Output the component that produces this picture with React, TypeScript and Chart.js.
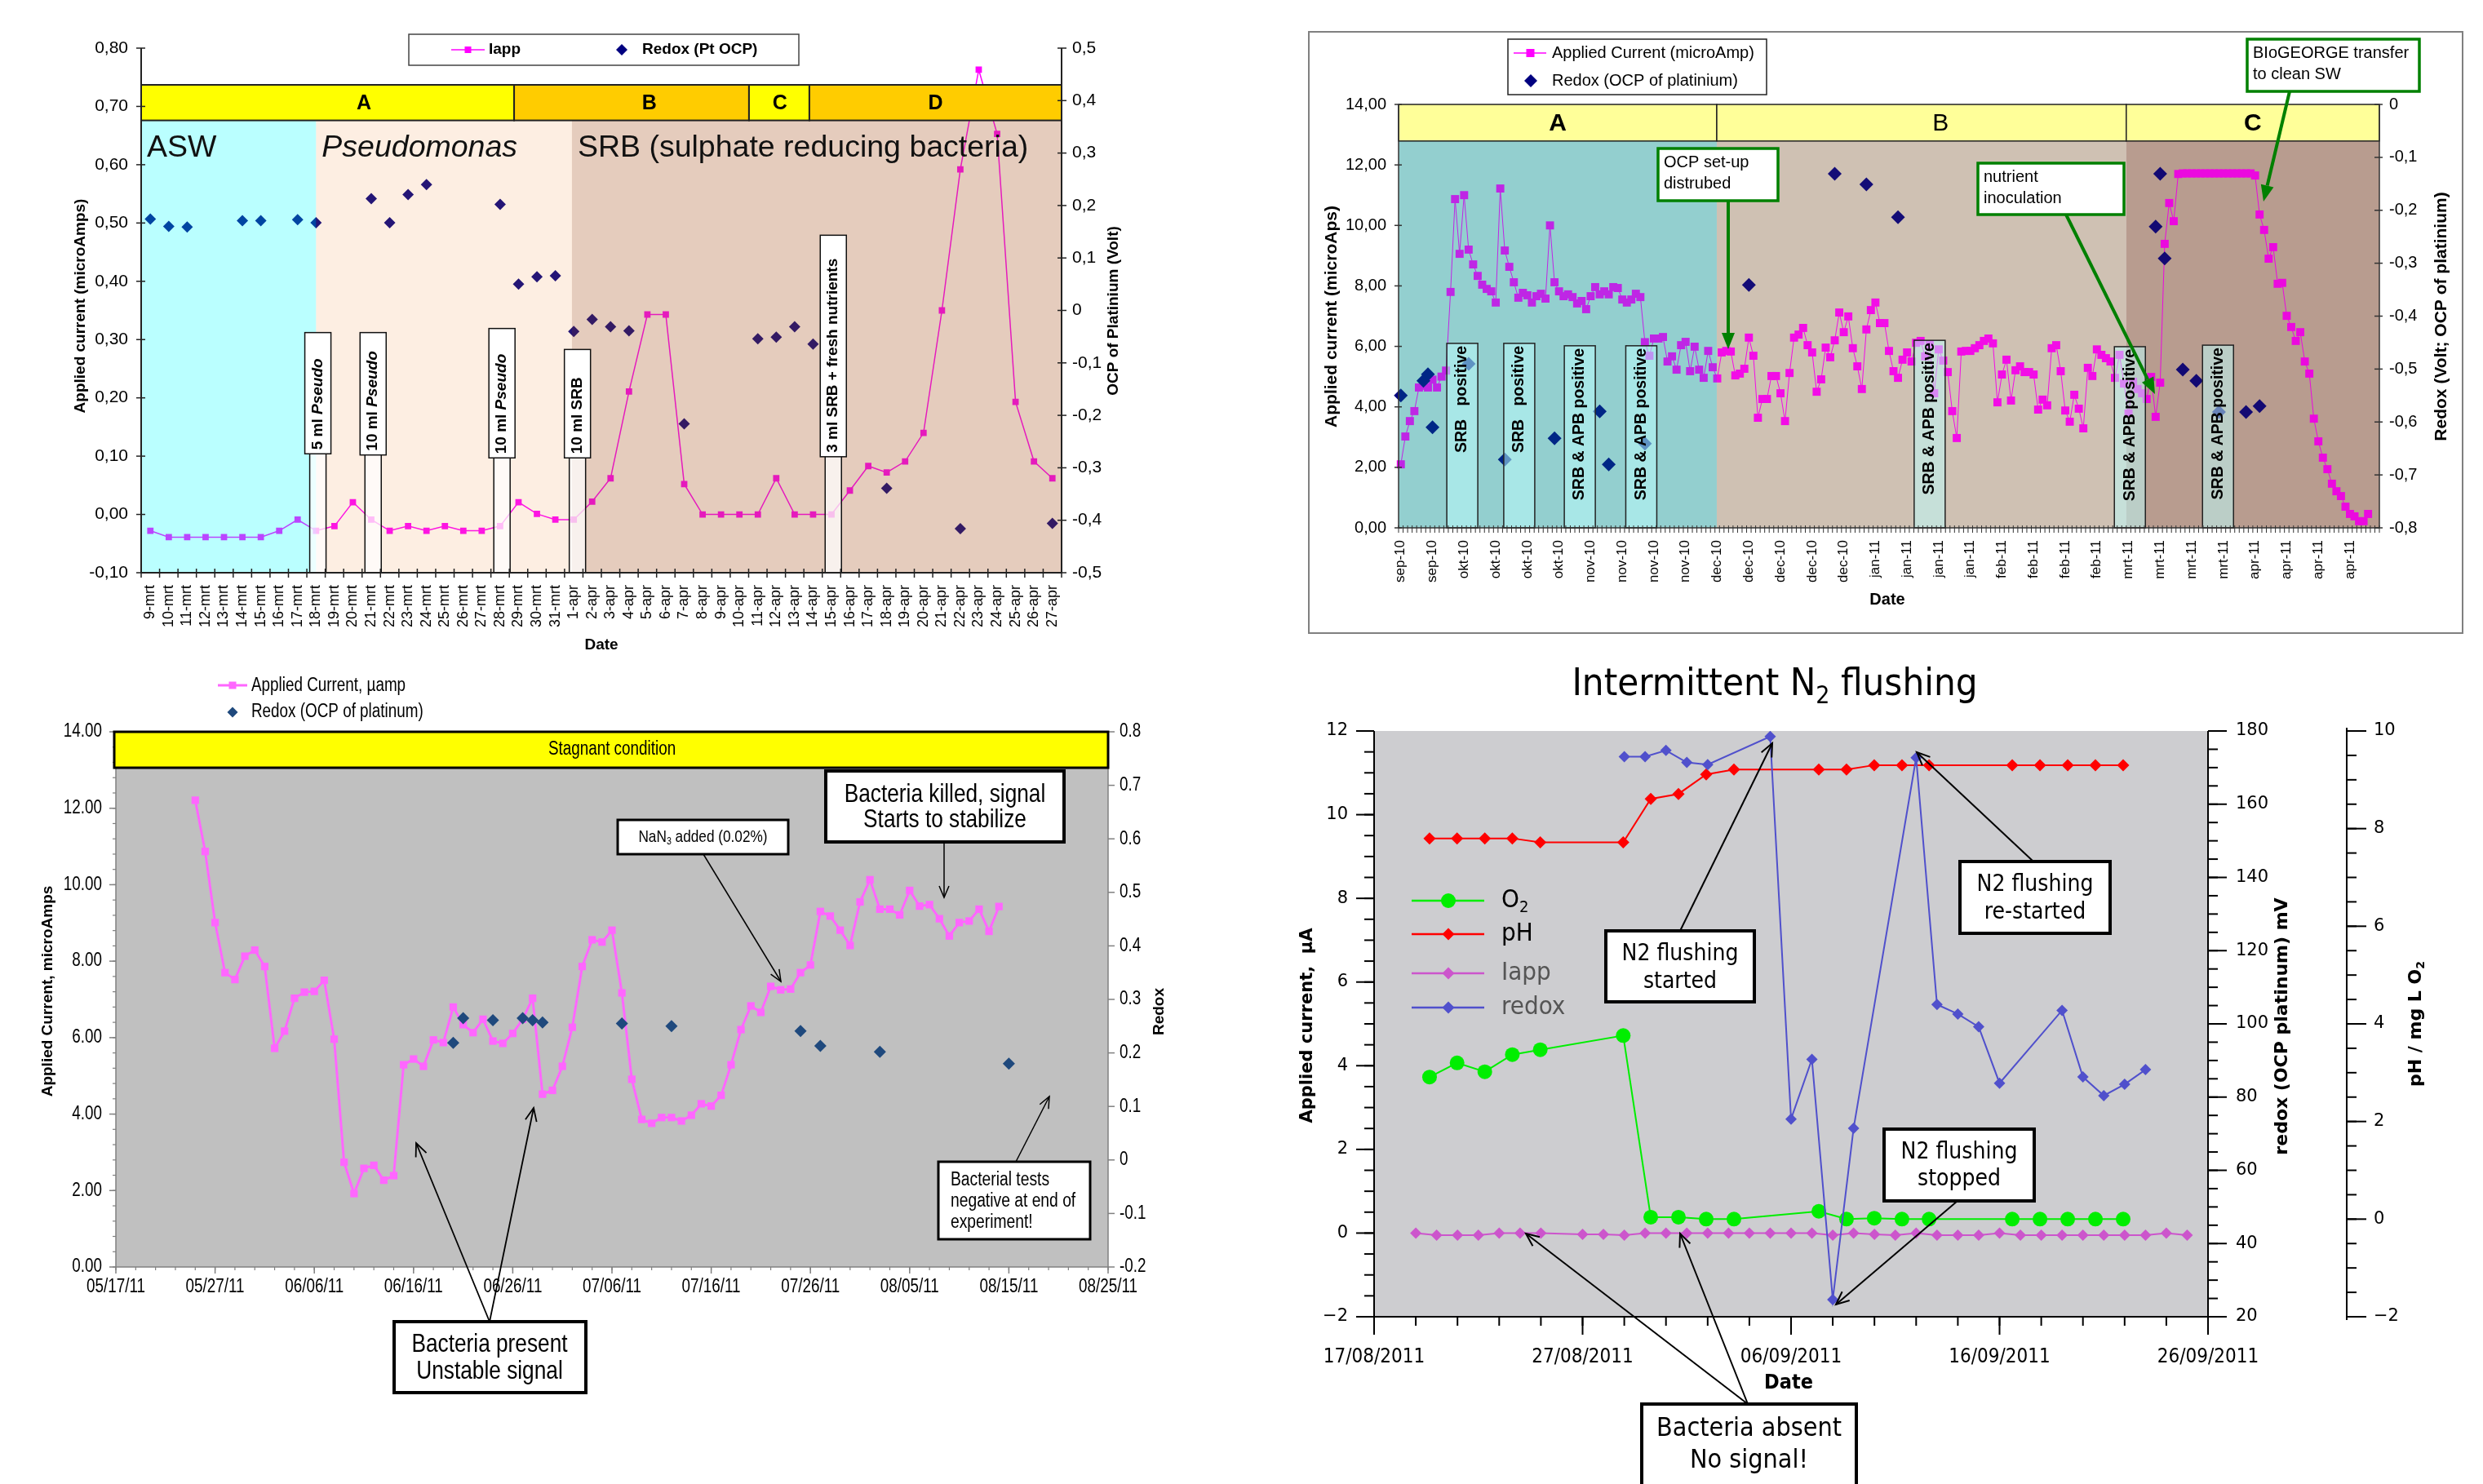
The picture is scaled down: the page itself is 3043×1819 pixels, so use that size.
import React, { useEffect, useRef } from 'react';
import { Chart, registerables } from 'chart.js';

Chart.register(...registerables);

const ARIAL = "'Liberation Sans', Arial, sans-serif";
const VERDANA = "'DejaVu Sans', Verdana, sans-serif";
const TAHOMA = "'DejaVu Sans Condensed', 'DejaVu Sans', Tahoma, sans-serif";

// ================= Panel 1 (top-left) data =================
const C1_DATES = ['9-mrt','10-mrt','11-mrt','12-mrt','13-mrt','14-mrt','15-mrt','16-mrt','17-mrt','18-mrt','19-mrt','20-mrt','21-mrt','22-mrt','23-mrt','24-mrt','25-mrt','26-mrt','27-mrt','28-mrt','29-mrt','30-mrt','31-mrt','1-apr','2-apr','3-apr','4-apr','5-apr','6-apr','7-apr','8-apr','9-apr','10-apr','11-apr','12-apr','13-apr','14-apr','15-apr','16-apr','17-apr','18-apr','19-apr','20-apr','21-apr','22-apr','23-apr','24-apr','25-apr','26-apr','27-apr'];
const C1_IAPP = [-0.028,-0.039,-0.039,-0.039,-0.039,-0.039,-0.039,-0.028,-0.009,-0.028,
  -0.020,0.021,-0.009,-0.028,-0.020,-0.028,-0.020,-0.028,-0.028,-0.020,
  0.021,0.001,-0.009,-0.009,0.022,0.062,0.211,0.343,0.343,0.052,
  0,0,0,0,0.062,0,0,0,0.041,0.083,
  0.072,0.091,0.140,0.350,0.592,0.763,0.653,0.193,0.091,0.062];
const C1_REDOX = [0.174,0.160,0.159,null,null,0.171,0.171,null,0.173,0.167,
  null,null,0.213,0.167,0.221,0.240,null,null,null,0.202,
  0.050,0.064,0.066,-0.040,-0.017,-0.031,-0.039,null,null,-0.216,
  null,null,null,-0.054,-0.051,-0.031,-0.064,null,null,null,
  -0.339,null,null,null,-0.416,null,null,null,null,-0.406];
const C1_BAND = [0.676, 0.737];
const C1_PHASES = [
  { name: 'A', from: -0.5, to: 19.76, at: 11.6, fill: '#FFFF00' },
  { name: 'B', from: 19.76, to: 32.52, at: 27.1, fill: '#FFCC00' },
  { name: 'C', from: 32.52, to: 35.8, at: 34.2, fill: '#FFFF00' },
  { name: 'D', from: 35.8, to: 49.5, at: 42.65, fill: '#FFCC00' },
];
const C1_MEDIA = [
  { name: 'ASW', from: -0.5, to: 9, italic: false, tint: 'rgba(0,255,255,0.27)' },
  { name: 'Pseudomonas', from: 9, to: 22.9, italic: true, tint: 'rgba(240,140,60,0.15)' },
  { name: 'SRB (sulphate reducing bacteria)', from: 22.9, to: 49.5, italic: false, tint: 'rgba(168,85,38,0.3)' },
];
const C1_NOTES = [
  { at: 9.1, top: 0.312, base: 0.104, parts: ['5 ml ', 'Pseudo'] },
  { at: 12.1, top: 0.312, base: 0.102, parts: ['10 ml ', 'Pseudo'] },
  { at: 19.1, top: 0.319, base: 0.097, parts: ['10 ml ', 'Pseudo'] },
  { at: 23.2, top: 0.283, base: 0.097, parts: ['10 ml SRB', ''] },
  { at: 37.1, top: 0.479, base: 0.099, parts: ['3 ml SRB + fresh nutrients', ''] },
];

// ================= Panel 2 (top-right) data =================
const C2_TICK_LABELS = ['sep-10','sep-10','okt-10','okt-10','okt-10','okt-10','nov-10','nov-10','nov-10','nov-10','dec-10','dec-10','dec-10','dec-10','dec-10','jan-11','jan-11','jan-11','jan-11','feb-11','feb-11','feb-11','feb-11','mrt-11','mrt-11','mrt-11','mrt-11','apr-11','apr-11','apr-11','apr-11'];
const C2_DAY_COUNT = 217;
const C2_LABEL_EVERY = 7;
const C2_IAPP = [2.10,3.02,3.53,3.86,4.64,4.70,4.64,4.90,4.64,5.00,
  5.20,7.80,10.87,9.06,11.00,9.20,8.71,8.33,8.04,7.90,
  7.82,7.45,11.22,9.17,8.63,8.12,7.61,7.77,7.69,7.45,
  7.66,7.74,7.58,10.00,8.12,7.82,7.66,7.72,7.63,7.42,
  7.50,7.23,7.66,7.96,7.72,7.82,7.72,7.96,7.93,7.55,
  7.45,7.55,7.74,7.63,6.14,5.69,6.26,6.26,6.31,5.50,
  5.67,5.23,6.04,6.15,5.18,5.99,5.23,4.96,5.85,5.31,
  4.94,5.80,5.85,5.83,5.04,5.10,5.26,6.29,5.69,3.64,
  4.26,4.26,5.02,5.02,4.45,3.53,5.12,6.29,6.39,6.61,
  6.04,5.80,4.50,4.91,5.96,5.64,6.20,7.12,6.47,6.99,
  5.94,5.34,4.59,6.56,7.20,7.45,6.77,6.77,5.85,5.18,
  4.96,5.56,5.80,5.50,6.12,6.18,5.67,6.07,4.45,5.90,
  5.53,5.15,3.86,2.97,5.83,5.85,5.85,5.94,6.04,6.18,
  6.26,6.10,4.15,5.07,5.56,4.21,5.21,5.34,5.15,5.15,
  5.07,3.91,4.24,4.05,5.94,6.04,5.18,3.88,3.51,4.40,
  3.94,3.29,5.29,5.02,5.90,5.72,5.61,5.50,4.96,5.72,
  4.77,3.78,4.83,4.59,4.45,4.26,4.99,3.67,4.80,9.39,
  10.74,10.14,11.70,11.72,11.72,11.72,11.72,11.72,11.72,11.72,
  11.72,11.72,11.72,11.72,11.72,11.72,11.72,11.72,11.72,11.65,
  10.36,9.85,8.90,9.28,8.07,8.10,7.01,6.64,6.18,6.47,
  5.50,5.10,3.61,2.86,2.32,1.94,1.46,1.21,1.05,0.70,
  0.46,0.38,0.22,0.22,0.46];
const C2_REDOX_AT = [0,5,6,7,15,23,34,44,46,54,77,96,103,110,167,168,169,173,176,181,187,190];
const C2_REDOX = [-0.550,-0.522,-0.510,-0.610,-0.490,-0.671,-0.631,-0.580,-0.680,-0.641,-0.341,-0.131,-0.151,-0.213,-0.231,-0.131,-0.291,-0.501,-0.522,-0.581,-0.581,-0.570];
const C2_BAND = [12.79, 14];
const C2_PHASES = [
  { name: 'A', from: -0.5, to: 69.9, at: 34.7, bold: true, base: 'rgb(196,226,226)', tint: 'rgba(0,150,150,0.25)' },
  { name: 'B', from: 69.9, to: 160.5, at: 119.4, bold: false, base: 'rgb(214,206,196)', tint: 'rgba(160,100,60,0.12)' },
  { name: 'C', from: 160.5, to: 216.5, at: 188.5, bold: true, base: 'rgb(195,173,161)', tint: 'rgba(120,60,40,0.15)' },
];
const C2_NOTES = [
  { at: 13.6, top: 6.10, text: 'SRB   positive' },
  { at: 26.2, top: 6.10, text: 'SRB   positive' },
  { at: 39.6, top: 6.02, text: 'SRB & APB positive' },
  { at: 53.2, top: 6.02, text: 'SRB & APB positive' },
  { at: 117.0, top: 6.20, text: 'SRB & APB positive' },
  { at: 161.3, top: 5.99, text: 'SRB & APB positive' },
  { at: 180.8, top: 6.04, text: 'SRB & APB positive' },
];
const C2_CALLOUTS = [
  { lines: ['OCP set-up', 'distrubed'], box: [2032, 182, 2179, 246], from: [2118, 246], to: [2118, 428] },
  { lines: ['nutrient', 'inoculation'], box: [2424, 200, 2603, 263], from: [2532, 263], to: [2641, 483] },
  { lines: ['BIoGEORGE transfer', 'to clean SW'], box: [2754, 48, 2965, 112], from: [2806, 112], to: [2774, 247] },
];

// ================= Panel 3 (bottom-left) data =================
const C3_XLABELS = ['05/17/11','05/27/11','06/06/11','06/16/11','06/26/11','07/06/11','07/16/11','07/26/11','08/05/11','08/15/11','08/25/11'];
const C3_FIRST_DAY = 8;
const C3_IAPP = [12.21,10.87,9.01,7.70,7.52,8.13,8.29,7.86,5.72,6.17,
  7.03,7.19,7.21,7.50,5.96,2.74,1.92,2.58,2.66,2.27,
  2.39,5.29,5.44,5.25,5.94,5.87,6.80,6.34,6.13,6.48,
  5.91,5.85,6.11,6.48,7.03,4.52,4.62,5.25,6.27,7.86,
  8.56,8.50,8.81,7.17,4.91,3.86,3.76,3.91,3.91,3.82,
  3.97,4.27,4.21,4.49,5.29,6.21,6.83,6.66,7.34,7.25,
  7.27,7.70,7.90,9.30,9.18,8.81,8.41,9.55,10.13,9.36,
  9.36,9.21,9.85,9.44,9.48,9.11,8.66,9.01,9.05,9.36,8.78,9.43];
const C3_REDOX_DAYS = [34,35,38,41,42,43,51,56,69,71,77,90];
const C3_REDOX = [0.219,0.265,0.261,0.265,0.261,0.257,0.255,0.250,0.241,0.213,0.202,0.180];
const C3_BAND_BOTTOM = 13.06;

// ================= Panel 4 (bottom-right) data =================
const C4_XLABELS = ['17/08/2011','27/08/2011','06/09/2011','16/09/2011','26/09/2011'];
const C4_SAMPLE_DAYS = [2.66,3.98,5.31,6.63,7.97,11.95,13.27,14.6,15.93,17.26,21.33,22.66,23.99,25.32,26.62,30.61,31.94,33.27,34.6,35.93];
const C4_PH = [7.80,7.80,7.80,7.80,7.72,7.72,8.61,8.71,9.11,9.21,9.21,9.21,9.30,9.30,9.30,9.30,9.30,9.30,9.30,9.30];
const C4_O2 = [2.91,3.20,3.02,3.37,3.47,3.76,0.04,0.04,0.00,0.00,0.16,0.00,0.02,0.00,0.00,0.00,0.00,0.00,0.00,0.00];
const C4_REDOX_DAYS = [12,13,14,15,16,19,20,21,22,23,26,27,28,29,30,33,34,35,36,37];
const C4_REDOX = [173.0,173.0,174.7,171.4,170.8,178.5,74.0,90.3,24.7,71.5,172.7,105.3,102.7,99.2,83.8,103.7,85.5,80.4,83.5,87.5];
const C4_IAPP_DAYS = [2,3,4,5,6,7,8,10,11,12,13,14,15,16,17,18,19,20,21,22,23,24,25,26,27,28,29,30,31,32,33,34,35,36,37,38,39];
const C4_IAPP = [0,-0.05,-0.05,-0.05,0,0,0,-0.03,-0.03,-0.05,0,0,0,0,0,0,0,0,0,-0.05,0,-0.03,-0.05,0,-0.05,-0.05,-0.05,0,-0.05,-0.05,-0.05,-0.05,-0.05,-0.05,-0.05,0,-0.05];

// ================= drawing helpers =================
function ln(ctx: any, x1: number, y1: number, x2: number, y2: number, color: string, w: number) {
  ctx.beginPath(); ctx.moveTo(x1, y1); ctx.lineTo(x2, y2);
  ctx.strokeStyle = color; ctx.lineWidth = w; ctx.stroke();
}
function boxR(ctx: any, x1: number, y1: number, x2: number, y2: number, fill: string | null, stroke: string | null, w = 1) {
  if (fill) { ctx.fillStyle = fill; ctx.fillRect(x1, y1, x2 - x1, y2 - y1); }
  if (stroke) { ctx.strokeStyle = stroke; ctx.lineWidth = w; ctx.strokeRect(x1, y1, x2 - x1, y2 - y1); }
}
function txt(ctx: any, s: string, x: number, y: number, font: string, color = '#000', align = 'left', base = 'middle') {
  ctx.font = font; ctx.fillStyle = color; ctx.textAlign = align; ctx.textBaseline = base; ctx.fillText(s, x, y);
}
function vtxt(ctx: any, s: string, x: number, y: number, font: string, color = '#000', align = 'center') {
  ctx.save(); ctx.translate(x, y); ctx.rotate(-Math.PI / 2); txt(ctx, s, 0, 0, font, color, align, 'middle'); ctx.restore();
}
function rich(ctx: any, parts: any[], x: number, y: number, align = 'left', base = 'middle') {
  let w = 0;
  for (const p of parts) { ctx.font = p.f; w += ctx.measureText(p.t).width; }
  let cx = align === 'center' ? x - w / 2 : align === 'right' ? x - w : x;
  ctx.textAlign = 'left'; ctx.textBaseline = base;
  for (const p of parts) {
    ctx.font = p.f; ctx.fillStyle = p.c || '#000';
    ctx.fillText(p.t, cx, y + (p.dy || 0));
    cx += ctx.measureText(p.t).width;
  }
}
function vrich(ctx: any, parts: any[], x: number, y: number, align = 'left') {
  ctx.save(); ctx.translate(x, y); ctx.rotate(-Math.PI / 2); rich(ctx, parts, 0, 0, align, 'middle'); ctx.restore();
}
// Arial-Narrow-like text: uses the narrow face if installed, otherwise squeezes Liberation Sans.
let NARROW_INFO: { family: string; sx: number } | null = null;
function narrow() {
  if (NARROW_INFO) return NARROW_INFO;
  const c = document.createElement('canvas').getContext('2d') as any;
  const probe = 'Bacteria present 0123 Wg';
  c.font = "40px 'Liberation Sans Narrow', monospace";
  const a = c.measureText(probe).width;
  c.font = '40px monospace';
  const b = c.measureText(probe).width;
  NARROW_INFO = Math.abs(a - b) > 0.5 ? { family: "'Liberation Sans Narrow', sans-serif", sx: 1 } : { family: ARIAL, sx: 0.82 };
  return NARROW_INFO;
}
function ntxt(ctx: any, s: string, x: number, y: number, size: number, align = 'left', base = 'middle', weight = '') {
  const n = narrow();
  ctx.save(); ctx.translate(x, y); ctx.scale(n.sx, 1);
  txt(ctx, s, 0, 0, `${weight} ${size}px ${n.family}`, '#000', align, base);
  ctx.restore();
}
function nrich(ctx: any, parts: any[], x: number, y: number, align = 'left') {
  const n = narrow();
  ctx.save(); ctx.translate(x, y); ctx.scale(n.sx, 1);
  rich(ctx, parts.map((p) => ({ ...p, f: `${p.size}px ${n.family}` })), 0, 0, align, 'middle');
  ctx.restore();
}
function diamond(ctx: any, x: number, y: number, r: number, color: string) {
  ctx.beginPath(); ctx.moveTo(x, y - r); ctx.lineTo(x + r, y); ctx.lineTo(x, y + r); ctx.lineTo(x - r, y); ctx.closePath();
  ctx.fillStyle = color; ctx.fill();
}
function square(ctx: any, x: number, y: number, s: number, color: string) {
  ctx.fillStyle = color; ctx.fillRect(x - s / 2, y - s / 2, s, s);
}
function circle(ctx: any, x: number, y: number, r: number, color: string) {
  ctx.beginPath(); ctx.arc(x, y, r, 0, Math.PI * 2); ctx.fillStyle = color; ctx.fill();
}
function arrow(ctx: any, x1: number, y1: number, x2: number, y2: number, color: string, w: number, len: number, hw: number, filled: boolean) {
  const ang = Math.atan2(y2 - y1, x2 - x1);
  const bx = x2 - len * Math.cos(ang), by = y2 - len * Math.sin(ang);
  const px = -Math.sin(ang) * hw, py = Math.cos(ang) * hw;
  ln(ctx, x1, y1, filled ? bx : x2, filled ? by : y2, color, w);
  ctx.beginPath(); ctx.moveTo(bx + px, by + py); ctx.lineTo(x2, y2); ctx.lineTo(bx - px, by - py);
  if (filled) { ctx.closePath(); ctx.fillStyle = color; ctx.fill(); }
  else { ctx.strokeStyle = color; ctx.lineWidth = w; ctx.stroke(); }
}
function each(min: number, max: number, step: number, fn: (v: number, i: number) => void) {
  const n = Math.round((max - min) / step);
  for (let i = 0; i <= n; i++) fn(min + i * step, i);
}
function G(chart: any, ox: number, oy: number) {
  const a = chart.chartArea;
  return {
    L: a.left + ox, R: a.right + ox, T: a.top + oy, B: a.bottom + oy,
    px: (id: string, v: number) => chart.scales[id].getPixelForValue(v) + ox,
    py: (id: string, v: number) => chart.scales[id].getPixelForValue(v) + oy,
  };
}
const comma = (v: number, d: number) => (Math.abs(v) < 1e-9 ? (0).toFixed(d) : v.toFixed(d)).replace('.', ',');
const commaShort = (v: number) => (Math.abs(v) < 1e-9 ? '0' : v.toFixed(1).replace('.', ','));
const dotShort = (v: number) => (Math.abs(v) < 1e-9 ? '0' : v.toFixed(1));

const COMMON = {
  animation: false,
  responsive: false,
  maintainAspectRatio: false,
  devicePixelRatio: 1,
  events: [],
  plugins: { legend: { display: false }, tooltip: { enabled: false } },
};
function linAxis(position: string, min: number, max: number, step: number, size: number, padding: number, font: any, callback: any, show = true) {
  const horizontal = position === 'bottom';
  return {
    type: 'linear', position, min, max,
    grid: { display: false, drawTicks: false }, border: { display: false },
    ticks: { display: show, stepSize: step, padding, color: '#000', font, callback, autoSkip: false, maxRotation: 0, minRotation: 0 },
    afterFit: (s: any) => { if (horizontal) s.height = size; else s.width = size; },
  };
}
function catAxis(size: number, padding: number, font: any) {
  return {
    type: 'category', position: 'bottom', offset: true,
    grid: { display: false, drawTicks: false }, border: { display: false },
    ticks: { autoSkip: false, minRotation: 90, maxRotation: 90, padding, color: '#000', font },
    afterFit: (s: any) => { s.height = size; },
  };
}

// ================= Panel 1 =================
const plugin1 = {
  id: 'panel1',
  afterDatasetsDraw(chart: any) {
    const ctx = chart.ctx;
    const g = G(chart, 0, 0);
    const X = (v: number) => g.px('x', v);
    const Y = (v: number) => g.py('y', v);
    const bandTop = Y(C1_BAND[1]);
    const bandBot = Y(C1_BAND[0]);
    ctx.save();
    for (const m of C1_MEDIA) {
      ctx.fillStyle = m.tint;
      ctx.fillRect(X(m.from), bandBot, X(m.to) - X(m.from), g.B - bandBot);
    }
    for (const m of C1_MEDIA) {
      txt(ctx, m.name, X(m.from) + 7, bandBot + 44, `${m.italic ? 'italic ' : ''}37.5px ${ARIAL}`, '#111', 'left', 'alphabetic');
    }
    for (const n of C1_NOTES) {
      const cx = X(n.at), yt = Y(n.top), yb = Y(n.base);
      ctx.fillStyle = 'rgba(255,255,255,0.72)';
      ctx.fillRect(cx - 10, yb, 20, g.B - yb);
      ln(ctx, cx - 10, yb, cx - 10, g.B, '#111', 1.5);
      ln(ctx, cx + 10, yb, cx + 10, g.B, '#111', 1.5);
      boxR(ctx, cx - 16, yt, cx + 16, yb, '#fff', '#111', 1.5);
      vrich(ctx, [{ t: n.parts[0], f: `bold 19px ${ARIAL}` }, { t: n.parts[1], f: `italic bold 19px ${ARIAL}` }], cx, yb - 5, 'left');
    }
    for (const p of C1_PHASES) {
      boxR(ctx, X(p.from), bandTop, X(p.to), bandBot, p.fill, '#222', 2);
      txt(ctx, p.name, X(p.at), (bandTop + bandBot) / 2 + 1, `bold 25px ${ARIAL}`, '#000', 'center', 'middle');
    }
    ln(ctx, g.L, g.T, g.L, g.B, '#222', 2);
    ln(ctx, g.R, g.T, g.R, g.B, '#222', 2);
    ln(ctx, g.L, g.B, g.R, g.B, '#222', 2);
    each(-0.1, 0.8, 0.1, (v) => { const y = Y(v); ln(ctx, g.L - 6, y, g.L + 5, y, '#222', 1.5); });
    each(-0.5, 0.5, 0.1, (v) => { const y = g.py('y2', v); ln(ctx, g.R - 5, y, g.R + 6, y, '#222', 1.5); });
    for (let i = 0; i <= C1_DATES.length; i++) { const x = X(i - 0.5); ln(ctx, x, g.B - 5, x, g.B + 6, '#222', 1.5); }
    vtxt(ctx, 'Applied current (microAmps)', 99, 375, `bold 19px ${ARIAL}`);
    vtxt(ctx, 'OCP of Platinium (Volt)', 1365, 381, `bold 19px ${ARIAL}`);
    txt(ctx, 'Date', 737, 791, `bold 19px ${ARIAL}`, '#000', 'center', 'middle');
    boxR(ctx, 501, 42, 979, 80, '#fff', '#444', 1.5);
    ln(ctx, 553, 61, 594, 61, '#FF00FF', 1.5);
    square(ctx, 573.5, 61, 8, '#FF00FF');
    txt(ctx, 'Iapp', 599, 61, `bold 19px ${ARIAL}`, '#000', 'left', 'middle');
    diamond(ctx, 762, 61, 7, '#000080');
    txt(ctx, 'Redox (Pt OCP)', 787, 61, `bold 19px ${ARIAL}`, '#000', 'left', 'middle');
    ctx.restore();
  },
};
function buildChart1() {
  return {
    type: 'line',
    data: {
      labels: C1_DATES,
      datasets: [
        { label: 'Redox (Pt OCP)', data: C1_REDOX, yAxisID: 'y2', showLine: false, pointStyle: 'rectRot', pointRadius: 7, pointBackgroundColor: '#000080', pointBorderWidth: 0, order: 0 },
        { label: 'Iapp', data: C1_IAPP, yAxisID: 'y', borderColor: '#FF00FF', borderWidth: 1.5, pointStyle: 'rect', pointRadius: 5.5, pointBackgroundColor: '#FF00FF', pointBorderWidth: 0, order: 1 },
      ],
    },
    options: {
      ...COMMON,
      layout: { padding: { top: 59, left: 0, right: 0, bottom: 0 } },
      scales: {
        x: catAxis(113, 15, { family: ARIAL, size: 18 }),
        y: linAxis('left', -0.1, 0.8, 0.1, 173, 16, { family: ARIAL, size: 21 }, (v: number) => comma(v, 2)),
        y2: linAxis('right', -0.5, 0.5, 0.1, 99, 13, { family: ARIAL, size: 21 }, (v: number) => commaShort(v)),
      },
    },
    plugins: [plugin1],
  };
}

// ================= Panel 2 =================
const P2X = 1560, P2Y = 0;
const plugin2 = {
  id: 'panel2',
  beforeDatasetsDraw(chart: any) {
    const ctx = chart.ctx;
    const g = G(chart, P2X, P2Y);
    const X = (v: number) => g.px('x', v);
    const bandBot = g.py('y', C2_BAND[0]);
    ctx.save(); ctx.translate(-P2X, -P2Y);
    for (const p of C2_PHASES) { ctx.fillStyle = p.base; ctx.fillRect(X(p.from), bandBot, X(p.to) - X(p.from), g.B - bandBot); }
    ctx.restore();
  },
  afterDatasetsDraw(chart: any) {
    const ctx = chart.ctx;
    const g = G(chart, P2X, P2Y);
    const X = (v: number) => g.px('x', v);
    const Y = (v: number) => g.py('y', v);
    const bandBot = Y(C2_BAND[0]), bandTop = Y(C2_BAND[1]);
    ctx.save(); ctx.translate(-P2X, -P2Y);
    for (const p of C2_PHASES) { ctx.fillStyle = p.tint; ctx.fillRect(X(p.from), bandBot, X(p.to) - X(p.from), g.B - bandBot); }
    for (const n of C2_NOTES) {
      const cx = X(n.at), yt = Y(n.top);
      boxR(ctx, cx - 19, yt, cx + 19, g.B, 'rgba(190,255,255,0.5)', '#222', 1.5);
      vtxt(ctx, n.text, cx, yt + 3, `bold 19.5px ${ARIAL}`, '#000', 'right');
    }
    for (const p of C2_PHASES) {
      boxR(ctx, X(p.from), bandTop, X(p.to), bandBot, '#FFFF99', '#222', 1.5);
      txt(ctx, p.name, X(p.at), (bandTop + bandBot) / 2 + 1, `${p.bold ? 'bold ' : ''}30px ${ARIAL}`, '#000', 'center', 'middle');
    }
    for (const c of C2_CALLOUTS) {
      arrow(ctx, c.from[0], c.from[1], c.to[0], c.to[1], '#008000', 4, 20, 8, true);
    }
    for (const c of C2_CALLOUTS) {
      const [x1, y1, x2, y2] = c.box;
      boxR(ctx, x1, y1, x2, y2, '#fff', '#008000', 3.5);
      c.lines.forEach((s, i) => txt(ctx, s, x1 + 7, y1 + 17.5 + i * 25.5, `20px ${ARIAL}`, '#000', 'left', 'middle'));
    }
    ln(ctx, g.L, g.T, g.L, g.B, '#333', 1.5);
    ln(ctx, g.R, g.T, g.R, g.B, '#333', 1.5);
    ln(ctx, g.L, g.B, g.R, g.B, '#333', 1.5);
    each(0, 14, 2, (v) => { const y = Y(v); ln(ctx, g.L - 5, y, g.L + 4, y, '#333', 1.5); });
    each(-0.8, 0, 0.1, (v) => { const y = g.py('y2', v); ln(ctx, g.R - 6, y, g.R + 4, y, '#333', 1.5); });
    for (let i = 0; i <= C2_DAY_COUNT; i++) { const x = X(i - 0.5); ln(ctx, x, g.B - 3, x, g.B + 6, '#333', 1); }
    vtxt(ctx, 'Applied current (microAps)', 1632, 388, `bold 21px ${ARIAL}`);
    vtxt(ctx, 'Redox (Volt; OCP of platinium)', 2992, 388, `bold 21px ${ARIAL}`);
    txt(ctx, 'Date', 2313, 735, `bold 20px ${ARIAL}`, '#000', 'center', 'middle');
    boxR(ctx, 1848, 48, 2165, 116, '#fff', '#222', 1.5);
    ln(ctx, 1855, 65, 1895, 65, '#FF00FF', 1.5);
    square(ctx, 1875.5, 65, 10, '#FF00FF');
    txt(ctx, 'Applied Current (microAmp)', 1902, 65, `20px ${ARIAL}`, '#000', 'left', 'middle');
    diamond(ctx, 1876, 99, 8, '#000080');
    txt(ctx, 'Redox (OCP of platinium)', 1902, 99, `20px ${ARIAL}`, '#000', 'left', 'middle');
    boxR(ctx, 1604, 39, 3018, 776, null, '#808080', 2);
    ctx.restore();
  },
};
function buildChart2() {
  const cats = Array.from({ length: C2_DAY_COUNT }, (_, i) => (i % C2_LABEL_EVERY === 0 ? C2_TICK_LABELS[i / C2_LABEL_EVERY] : ''));
  const redox: (number | null)[] = Array.from({ length: C2_DAY_COUNT }, () => null);
  C2_REDOX_AT.forEach((d, i) => { redox[d] = C2_REDOX[i]; });
  return {
    type: 'line',
    data: {
      labels: cats,
      datasets: [
        { label: 'Redox (OCP of platinium)', data: redox, yAxisID: 'y2', showLine: false, pointStyle: 'rectRot', pointRadius: 8.5, pointBackgroundColor: '#000080', pointBorderWidth: 0, order: 0 },
        { label: 'Applied Current (microAmp)', data: C2_IAPP, yAxisID: 'y', borderColor: '#FF00FF', borderWidth: 1, pointStyle: 'rect', pointRadius: 7, pointBackgroundColor: '#FF00FF', pointBorderWidth: 0, order: 1 },
      ],
    },
    options: {
      ...COMMON,
      layout: { padding: { top: 128, left: 0, right: 0, bottom: 0 } },
      scales: {
        x: catAxis(143, 15, { family: ARIAL, size: 17 }),
        y: linAxis('left', 0, 14, 2, 154, 15, { family: ARIAL, size: 20 }, (v: number) => comma(v, 2)),
        y2: linAxis('right', -0.8, 0, 0.1, 127, 12, { family: ARIAL, size: 20 }, (v: number) => commaShort(v)),
      },
    },
    plugins: [plugin2],
  };
}

// ================= Panel 3 =================
const P3X = 0, P3Y = 815;
const plugin3 = {
  id: 'panel3',
  beforeDatasetsDraw(chart: any) {
    const ctx = chart.ctx;
    const g = G(chart, P3X, P3Y);
    const bandBot = g.py('y', C3_BAND_BOTTOM);
    ctx.save(); ctx.translate(-P3X, -P3Y);
    ctx.fillStyle = '#C0C0C0';
    ctx.fillRect(g.L, bandBot, g.R - g.L, g.B - bandBot);
    ctx.restore();
  },
  afterDatasetsDraw(chart: any) {
    const ctx = chart.ctx;
    const g = G(chart, P3X, P3Y);
    const Y = (v: number) => g.py('y', v);
    const bandBot = Y(C3_BAND_BOTTOM);
    ctx.save(); ctx.translate(-P3X, -P3Y);
    const gray = '#808080';
    ln(ctx, g.L, g.T, g.L, g.B, gray, 1.5);
    ln(ctx, g.R, g.T, g.R, g.B, gray, 1.5);
    ln(ctx, g.L, g.B, g.R, g.B, gray, 1.5);
    each(0, 14, 0.4, (v) => { const y = Y(v); ln(ctx, g.L - 4, y, g.L, y, gray, 1.2); });
    each(0, 14, 2, (v) => { const y = Y(v); ln(ctx, g.L - 8, y, g.L, y, gray, 1.5); ntxt(ctx, v.toFixed(2), g.L - 17, y, 23, 'right'); });
    each(-0.2, 0.8, 0.1, (v) => { const y = g.py('y2', v); ln(ctx, g.R, y, g.R + 8, y, gray, 1.5); ntxt(ctx, dotShort(v), g.R + 14, y, 23, 'left'); });
    each(0, 100, 2, (v) => { const x = g.px('x', v); ln(ctx, x, g.B, x, g.B + 4, gray, 1.2); });
    each(0, 100, 10, (v, i) => { const x = g.px('x', v); ln(ctx, x, g.B, x, g.B + 8, gray, 1.5); ntxt(ctx, C3_XLABELS[i], x, g.B + 25, 23, 'center'); });
    boxR(ctx, g.L - 2, g.T, g.R, bandBot, '#FFFF00', '#000', 3);
    ntxt(ctx, 'Stagnant condition', (g.L + g.R) / 2, (g.T + bandBot) / 2, 23, 'center');
    vtxt(ctx, 'Applied Current, microAmps', 59, 1215, `bold 19px ${ARIAL}`);
    vtxt(ctx, 'Redox', 1421, 1240, `bold 19px ${ARIAL}`);
    // legend
    ln(ctx, 267, 840, 303, 840, '#FF66FF', 3);
    square(ctx, 285, 840, 9, '#FF66FF');
    ntxt(ctx, 'Applied Current, \u00b5amp', 308, 841, 23, 'left');
    diamond(ctx, 285, 873, 6.5, '#1F497D');
    ntxt(ctx, 'Redox (OCP of platinum)', 308, 873, 23, 'left');
    // callouts
    arrow(ctx, 862, 1047, 957, 1203, '#000', 1.5, 14, 6, false);
    boxR(ctx, 757, 1005, 966, 1047, '#fff', '#000', 3);
    nrich(ctx, [{ t: 'NaN', size: 21 }, { t: '3', size: 13, dy: 5 }, { t: ' added (0.02%)', size: 21 }], 861.5, 1026, 'center');
    arrow(ctx, 1157, 1032, 1157, 1100, '#000', 1.5, 14, 6, false);
    boxR(ctx, 1012, 945, 1304, 1032, '#fff', '#000', 4);
    ntxt(ctx, 'Bacteria killed, signal', 1158, 974, 32, 'center');
    ntxt(ctx, 'Starts to stabilize', 1158, 1005, 32, 'center');
    arrow(ctx, 1245, 1424, 1286, 1344, '#000', 1.5, 14, 6, false);
    boxR(ctx, 1150, 1424, 1336, 1519, '#fff', '#000', 3);
    ['Bacterial tests', 'negative at end of', 'experiment!'].forEach((s, i) => ntxt(ctx, s, 1165, 1447 + i * 26, 23.5, 'left'));
    arrow(ctx, 600, 1620, 510, 1401, '#000', 1.8, 16, 7, false);
    arrow(ctx, 600, 1620, 654, 1358, '#000', 1.8, 16, 7, false);
    boxR(ctx, 483, 1620, 718, 1707, '#fff', '#000', 4);
    ntxt(ctx, 'Bacteria present', 600, 1648, 32, 'center');
    ntxt(ctx, 'Unstable signal', 600, 1681, 32, 'center');
    ctx.restore();
  },
};
function buildChart3() {
  return {
    type: 'line',
    data: {
      datasets: [
        { label: 'Redox (OCP of platinum)', data: C3_REDOX_DAYS.map((d, i) => ({ x: d, y: C3_REDOX[i] })), yAxisID: 'y2', showLine: false, pointStyle: 'rectRot', pointRadius: 7.5, pointBackgroundColor: '#1F497D', pointBorderWidth: 0, order: 0 },
        { label: 'Applied Current, \u00b5amp', data: C3_IAPP.map((v, i) => ({ x: C3_FIRST_DAY + i, y: v })), yAxisID: 'y', borderColor: '#FF66FF', borderWidth: 3, pointStyle: 'rect', pointRadius: 6.5, pointBackgroundColor: '#FF66FF', pointBorderWidth: 0, order: 1 },
      ],
    },
    options: {
      ...COMMON,
      layout: { padding: { top: 82, left: 0, right: 0, bottom: 0 } },
      scales: {
        x: linAxis('bottom', 0, 100, 10, 266, 13, { family: ARIAL, size: 23 }, (_v: number, i: number) => C3_XLABELS[i], false),
        y: linAxis('left', 0, 14, 2, 142, 17, { family: ARIAL, size: 23 }, (v: number) => v.toFixed(2), false),
        y2: linAxis('right', -0.2, 0.8, 0.1, 82, 14, { family: ARIAL, size: 23 }, (v: number) => dotShort(v), false),
      },
    },
    plugins: [plugin3],
  };
}

// ================= Panel 4 =================
const P4X = 1540, P4Y = 790;
const plugin4 = {
  id: 'panel4',
  beforeDatasetsDraw(chart: any) {
    const ctx = chart.ctx;
    const a = chart.chartArea;
    ctx.save();
    ctx.fillStyle = '#CDCDD0';
    ctx.fillRect(a.left, a.top, a.right - a.left, a.bottom - a.top);
    ctx.restore();
  },
  afterDatasetsDraw(chart: any) {
    const ctx = chart.ctx;
    const g = G(chart, P4X, P4Y);
    const phX = chart.scales.ph.left + P4X;
    ctx.save(); ctx.translate(-P4X, -P4Y);
    const k = '#000';
    ln(ctx, g.L, g.T, g.L, g.B, k, 2);
    ln(ctx, g.L, g.B, g.R, g.B, k, 2);
    ln(ctx, g.R, g.T, g.R, g.B, k, 2);
    ln(ctx, phX, g.T - 4, phX, g.B + 4, k, 2);
    each(-2, 12, 0.5, (v) => { const y = g.py('y', v); ln(ctx, g.L - 12, y, g.L, y, k, 2); });
    each(-2, 12, 2, (v) => { const y = g.py('y', v); ln(ctx, g.L - 22, y, g.L, y, k, 2); });
    each(0, 40, 2, (v) => { const x = g.px('x', v); ln(ctx, x, g.B, x, g.B + 11, k, 2); });
    each(0, 40, 10, (v) => { const x = g.px('x', v); ln(ctx, x, g.B, x, g.B + 22, k, 2); });
    each(20, 180, 5, (v) => { const y = g.py('redox', v); ln(ctx, g.R, y, g.R + 12, y, k, 2); });
    each(20, 180, 20, (v) => { const y = g.py('redox', v); ln(ctx, g.R, y, g.R + 23, y, k, 2); });
    each(-2, 10, 0.5, (v) => { const y = g.py('ph', v); ln(ctx, phX, y, phX + 12, y, k, 2); });
    each(-2, 10, 2, (v) => { const y = g.py('ph', v); ln(ctx, phX, y, phX + 24, y, k, 2); });
    vtxt(ctx, 'Applied current,  \u00b5A', 1603, 1257, `bold 21px ${VERDANA}`);
    vtxt(ctx, 'redox (OCP platinum) mV', 2797, 1258, `bold 22px ${VERDANA}`);
    vrich(ctx, [{ t: 'pH / mg L O', f: `bold 22px ${VERDANA}` }, { t: '2', f: `bold 14px ${VERDANA}`, dy: 6 }], 2961, 1255, 'center');
    txt(ctx, 'Date', 2192, 1695, `bold 25px ${TAHOMA}`, '#000', 'center', 'middle');
    rich(ctx, [{ t: 'Intermittent N', f: `47px ${TAHOMA}` }, { t: '2', f: `30px ${TAHOMA}`, dy: 10 }, { t: ' flushing', f: `47px ${TAHOMA}` }], 2175, 852, 'center', 'alphabetic');
    const lg = [
      { y: 1104, color: '#00EE00', mk: 'circle', parts: [{ t: 'O', f: `31px ${TAHOMA}` }, { t: '2', f: `20px ${TAHOMA}`, dy: 9 }] },
      { y: 1145, color: '#FF0000', mk: 'diamond', parts: [{ t: 'pH', f: `31px ${TAHOMA}` }] },
      { y: 1193, color: '#CC55CC', mk: 'diamond', parts: [{ t: 'Iapp', f: `31px ${TAHOMA}`, c: '#555' }] },
      { y: 1235, color: '#5050CC', mk: 'diamond', parts: [{ t: 'redox', f: `31px ${TAHOMA}`, c: '#555' }] },
    ];
    for (const e of lg) {
      ln(ctx, 1730, e.y, 1819, e.y, e.color, 2.5);
      if (e.mk === 'circle') circle(ctx, 1775, e.y, 9, e.color); else diamond(ctx, 1775, e.y, 7.5, e.color);
      rich(ctx, e.parts, 1840, e.y, 'left', 'middle');
    }
    const callouts = [
      { lines: ['N2 flushing', 'started'], box: [1968, 1141, 2150, 1228], ly: [1170, 1204], fs: 28, arrows: [[2059, 1141, 2172, 911]] },
      { lines: ['N2 flushing', 're-started'], box: [2402, 1056, 2586, 1144], ly: [1085, 1119], fs: 28, arrows: [[2492, 1056, 2349, 922]] },
      { lines: ['N2 flushing', 'stopped'], box: [2309, 1384, 2493, 1472], ly: [1413, 1446], fs: 28, arrows: [[2399, 1472, 2250, 1599]] },
      { lines: ['Bacteria absent', 'No signal!'], box: [2012, 1721, 2275, 1845], ly: [1752, 1791], fs: 32, arrows: [[2142, 1721, 1870, 1512], [2142, 1721, 2059, 1512]] },
    ];
    for (const c of callouts) for (const a of c.arrows) arrow(ctx, a[0], a[1], a[2], a[3], '#000', 2, 16, 7, false);
    for (const c of callouts) {
      const [x1, y1, x2, y2] = c.box;
      boxR(ctx, x1, y1, x2, y2, '#fff', '#000', 4);
      c.lines.forEach((s, i) => txt(ctx, s, (x1 + x2) / 2, c.ly[i], `${c.fs}px ${TAHOMA}`, '#000', 'center', 'middle'));
    }
    ctx.restore();
  },
};
function buildChart4() {
  const pts = (xs: number[], ys: number[]) => xs.map((d, i) => ({ x: d, y: ys[i] }));
  return {
    type: 'line',
    data: {
      datasets: [
        { label: 'redox', data: pts(C4_REDOX_DAYS, C4_REDOX), yAxisID: 'redox', borderColor: '#5050CC', borderWidth: 2, pointStyle: 'rectRot', pointRadius: 7, pointBackgroundColor: '#5050CC', pointBorderWidth: 0, order: 0 },
        { label: 'Iapp', data: pts(C4_IAPP_DAYS, C4_IAPP), yAxisID: 'y', borderColor: '#CC55CC', borderWidth: 2, pointStyle: 'rectRot', pointRadius: 7, pointBackgroundColor: '#CC55CC', pointBorderWidth: 0, order: 1 },
        { label: 'pH', data: pts(C4_SAMPLE_DAYS, C4_PH), yAxisID: 'ph', borderColor: '#FF0000', borderWidth: 2, pointStyle: 'rectRot', pointRadius: 7.5, pointBackgroundColor: '#FF0000', pointBorderWidth: 0, order: 2 },
        { label: 'O2', data: pts(C4_SAMPLE_DAYS, C4_O2), yAxisID: 'ph', borderColor: '#00EE00', borderWidth: 2, pointStyle: 'circle', pointRadius: 9, pointBackgroundColor: '#00EE00', pointBorderWidth: 0, order: 3 },
      ],
    },
    options: {
      ...COMMON,
      layout: { padding: { top: 106, left: 0, right: 0, bottom: 0 } },
      scales: {
        x: linAxis('bottom', 0, 40, 10, 205, 35, { family: TAHOMA, size: 24 }, (_v: number, i: number) => C4_XLABELS[i]),
        y: linAxis('left', -2, 12, 2, 144, 32, { family: VERDANA, size: 21 }, (v: number) => String(Math.round(v)).replace('-', '\u2212')),
        redox: linAxis('right', 20, 180, 20, 170, 34, { family: VERDANA, size: 21 }, (v: number) => String(Math.round(v))),
        ph: linAxis('right', -2, 10, 2, 167, 33, { family: VERDANA, size: 21 }, (v: number) => String(Math.round(v)).replace('-', '\u2212')),
      },
    },
    plugins: [plugin4],
  };
}

// ================= React =================
function Panel({ left, top, width, height, build }: { left: number; top: number; width: number; height: number; build: () => any }) {
  const ref = useRef<HTMLCanvasElement | null>(null);
  useEffect(() => {
    const chart = new Chart(ref.current as HTMLCanvasElement, build());
    return () => chart.destroy();
  }, []);
  return <canvas ref={ref} width={width} height={height} style={{ position: 'absolute', left, top, width, height }} />;
}

export default function App() {
  useEffect(() => {
    document.body.style.margin = '0';
    document.body.style.overflow = 'hidden';
    document.body.style.background = '#fff';
  }, []);
  return (
    <div style={{ position: 'absolute', left: 0, top: 0, width: 3043, height: 1819, background: '#fff', overflow: 'hidden' }}>
      <Panel left={0} top={0} width={1400} height={815} build={buildChart1} />
      <Panel left={1560} top={0} width={1483} height={790} build={buildChart2} />
      <Panel left={0} top={815} width={1440} height={1004} build={buildChart3} />
      <Panel left={1540} top={790} width={1503} height={1029} build={buildChart4} />
    </div>
  );
}
